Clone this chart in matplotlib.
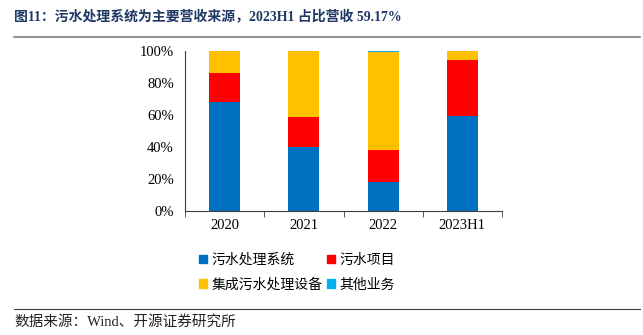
import matplotlib.pyplot as plt
from matplotlib.lines import Line2D
from matplotlib.patches import Patch
import numpy as np

# Revenue share by segment (%)
periods = ['2020', '2021', '2022', '2023H1']
sewage_system = [68.4, 40.2, 18.3, 59.17]
sewage_project = [18.1, 18.3, 19.8, 35.2]
integrated_equipment = [13.5, 41.5, 61.5, 5.63]
other_business = [0.0, 0.0, 0.4, 0.0]

series = [
    ('污水处理系统', sewage_system, '#0070C0'),
    ('污水项目', sewage_project, '#FF0000'),
    ('集成污水处理设备', integrated_equipment, '#FFC000'),
    ('其他业务', other_business, '#00B0F0'),
]

plt.rcParams['font.family'] = ['Liberation Serif', 'Noto Sans CJK SC']

W, H = 643, 335
fig = plt.figure(figsize=(W / 100, H / 100), dpi=100)

ax = fig.add_axes([185 / W, 1 - 211 / H, 317 / W, 160 / H])
x = np.arange(len(periods))
bottom = np.zeros(len(periods))
for name, vals, color in series:
    vals = np.array(vals)
    ax.bar(x, vals, width=0.39, bottom=bottom, color=color, label=name)
    bottom += vals

ax.set_xlim(-0.5, len(periods) - 0.5)
ax.set_ylim(0, 100)
ax.set_yticks(np.arange(0, 101, 20))
ax.set_yticklabels([f'{v}%' for v in range(0, 101, 20)], fontsize=10.5)
ax.set_xticks(x)
ax.set_xticklabels(periods, fontsize=10.5)
ax.set_xticks(np.arange(-0.5, len(periods), 1), minor=True)
ax.tick_params(axis='x', which='major', length=0, pad=6)
ax.tick_params(axis='x', which='minor', length=4, direction='out', color='#404040')
ax.tick_params(axis='y', length=0, pad=8)
for side in ['top', 'right']:
    ax.spines[side].set_visible(False)
ax.spines['left'].set_color('#404040')
ax.spines['bottom'].set_color('#404040')

# legend: two rows, two columns
handles = [Patch(color=c) for _, _, c in series]
labels = [n for n, _, _ in series]
order = [0, 2, 1, 3]
fig.legend([handles[i] for i in order], [labels[i] for i in order],
           loc='upper left', bbox_to_anchor=(192 / W, 1 - 246 / H),
           ncol=2, frameon=False,
           prop={'family': ['Noto Sans CJK SC'], 'size': 10},
           handlelength=0.6, handleheight=0.6, handletextpad=0.3,
           columnspacing=0.3, labelspacing=0.75, borderpad=0)

# header and footer
fig.text(14 / W, 1 - 17 / H, '图11：污水处理系统为主要营收来源，2023H1 占比营收 59.17%',
         fontsize=10, fontweight='bold', color='#1F3864', va='center', ha='left')
fig.add_artist(Line2D([14 / W, 640 / W], [1 - 37 / H, 1 - 37 / H],
                      color='#808080', linewidth=1.2))
fig.add_artist(Line2D([14 / W, 640 / W], [1 - 309 / H, 1 - 309 / H],
                      color='#404040', linewidth=0.8))
fig.text(14 / W, 1 - 322 / H, '数据来源：Wind、开源证券研究所',
         fontsize=10.5, color='#222222', va='center', ha='left')

fig.savefig('out.png', dpi=100)
